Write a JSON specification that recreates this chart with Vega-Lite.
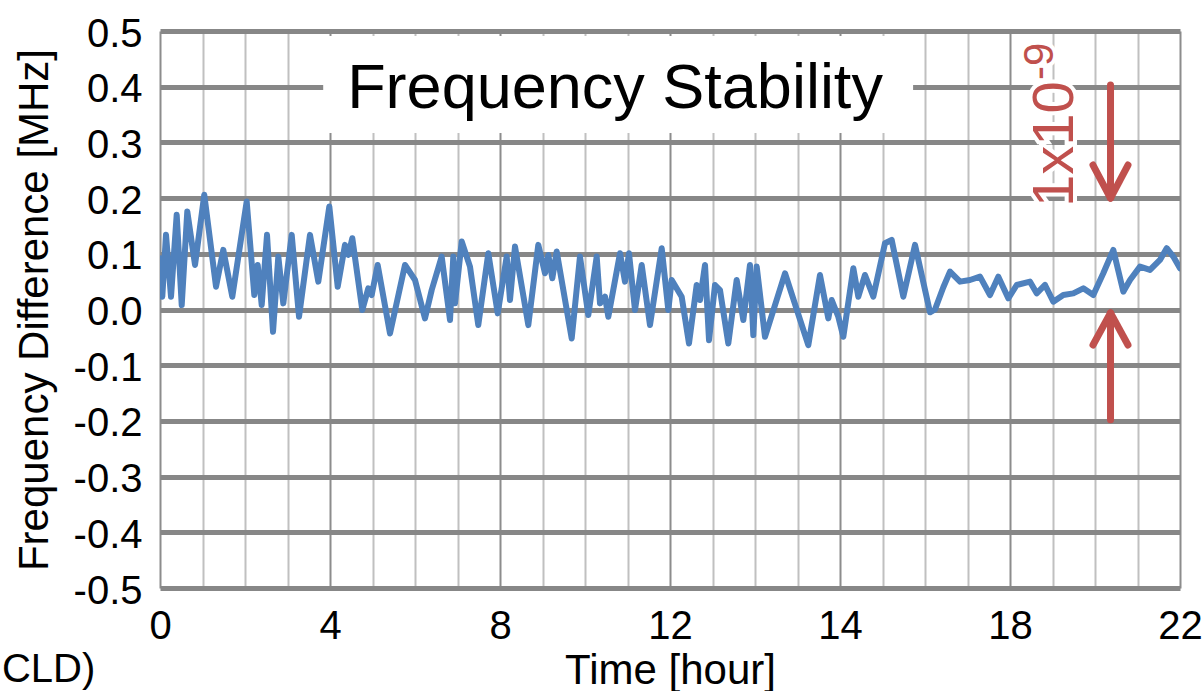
{
  "$schema": "https://vega.github.io/schema/vega-lite/v6.json",
  "width": 1020,
  "height": 557,
  "autosize": {"type": "none"},
  "padding": {"left": 160, "top": 31, "right": 23, "bottom": 103},
  "background": "white",
  "config": {"view": {"stroke": null}, "font": "Liberation Sans"},
  "datasets": {
    "signal": [
      {"t": 0, "f": 0.092}, {"t": 0.054, "f": 0.023}, {"t": 0.141, "f": 0.134}, {"t": 0.259, "f": 0.023},
      {"t": 0.393, "f": 0.170}, {"t": 0.511, "f": 0.008}, {"t": 0.642, "f": 0.176}, {"t": 0.824, "f": 0.080},
      {"t": 1.042, "f": 0.206}, {"t": 1.318, "f": 0.041}, {"t": 1.489, "f": 0.107}, {"t": 1.701, "f": 0.023},
      {"t": 2.04, "f": 0.194}, {"t": 2.219, "f": 0.026}, {"t": 2.299, "f": 0.080}, {"t": 2.393, "f": 0.008},
      {"t": 2.518, "f": 0.134}, {"t": 2.659, "f": -0.040}, {"t": 2.784, "f": 0.095}, {"t": 2.901, "f": 0.011},
      {"t": 3.099, "f": 0.134}, {"t": 3.271, "f": -0.013}, {"t": 3.529, "f": 0.134}, {"t": 3.725, "f": 0.050},
      {"t": 3.984, "f": 0.185}, {"t": 4.181, "f": 0.041}, {"t": 4.353, "f": 0.116}, {"t": 4.431, "f": 0.098},
      {"t": 4.525, "f": 0.128}, {"t": 4.76, "f": -0.001}, {"t": 4.901, "f": 0.038}, {"t": 4.981, "f": 0.026},
      {"t": 5.122, "f": 0.080}, {"t": 5.412, "f": -0.043}, {"t": 5.765, "f": 0.080}, {"t": 6.0, "f": 0.053},
      {"t": 6.235, "f": -0.016}, {"t": 6.393, "f": 0.035}, {"t": 6.628, "f": 0.095}, {"t": 6.824, "f": -0.019},
      {"t": 6.901, "f": 0.095}, {"t": 6.941, "f": 0.011}, {"t": 7.099, "f": 0.122}, {"t": 7.294, "f": 0.077},
      {"t": 7.489, "f": -0.028}, {"t": 7.725, "f": 0.101}, {"t": 7.946, "f": -0.007}, {"t": 8.158, "f": 0.095},
      {"t": 8.235, "f": 0.017}, {"t": 8.353, "f": 0.113}, {"t": 8.666, "f": -0.028}, {"t": 8.901, "f": 0.116},
      {"t": 9.059, "f": 0.065}, {"t": 9.136, "f": 0.098}, {"t": 9.231, "f": 0.056}, {"t": 9.334, "f": 0.104},
      {"t": 9.687, "f": -0.052}, {"t": 9.882, "f": 0.095}, {"t": 10.078, "f": -0.010}, {"t": 10.275, "f": 0.095},
      {"t": 10.353, "f": 0.011}, {"t": 10.471, "f": 0.023}, {"t": 10.549, "f": -0.013}, {"t": 10.824, "f": 0.101},
      {"t": 10.941, "f": 0.050}, {"t": 11.035, "f": 0.101}, {"t": 11.176, "f": -0.001}, {"t": 11.334, "f": 0.080},
      {"t": 11.529, "f": -0.028}, {"t": 11.805, "f": 0.110}, {"t": 11.96, "f": -0.001}, {"t": 12.04, "f": 0.053},
      {"t": 12.275, "f": 0.023}, {"t": 12.447, "f": -0.061}, {"t": 12.628, "f": 0.044}, {"t": 12.706, "f": 0.017},
      {"t": 12.824, "f": 0.080}, {"t": 12.918, "f": -0.055}, {"t": 13.059, "f": 0.044}, {"t": 13.176, "f": 0.035},
      {"t": 13.372, "f": -0.061}, {"t": 13.569, "f": 0.053}, {"t": 13.725, "f": -0.019}, {"t": 13.882, "f": 0.080},
      {"t": 13.96, "f": -0.046}, {"t": 14.04, "f": 0.077}, {"t": 14.235, "f": -0.049}, {"t": 14.706, "f": 0.065},
      {"t": 15.254, "f": -0.064}, {"t": 15.529, "f": 0.062}, {"t": 15.725, "f": -0.016}, {"t": 15.805, "f": 0.017},
      {"t": 15.96, "f": -0.013}, {"t": 16.078, "f": -0.049}, {"t": 16.314, "f": 0.074}, {"t": 16.431, "f": 0.023},
      {"t": 16.588, "f": 0.062}, {"t": 16.784, "f": 0.023}, {"t": 17.059, "f": 0.119}, {"t": 17.216, "f": 0.125},
      {"t": 17.49, "f": 0.023}, {"t": 17.765, "f": 0.116}, {"t": 18.118, "f": -0.005}, {"t": 18.235, "f": 0.0},
      {"t": 18.431, "f": 0.040}, {"t": 18.588, "f": 0.068}, {"t": 18.824, "f": 0.050}, {"t": 19.059, "f": 0.053},
      {"t": 19.294, "f": 0.059}, {"t": 19.529, "f": 0.026}, {"t": 19.725, "f": 0.059}, {"t": 19.96, "f": 0.020},
      {"t": 20.158, "f": 0.044}, {"t": 20.471, "f": 0.050}, {"t": 20.628, "f": 0.029}, {"t": 20.824, "f": 0.044},
      {"t": 21.019, "f": 0.014}, {"t": 21.254, "f": 0.026}, {"t": 21.489, "f": 0.029}, {"t": 21.725, "f": 0.038},
      {"t": 21.96, "f": 0.026}, {"t": 22.195, "f": 0.065}, {"t": 22.431, "f": 0.107}, {"t": 22.666, "f": 0.032},
      {"t": 22.824, "f": 0.053}, {"t": 23.059, "f": 0.077}, {"t": 23.294, "f": 0.071}, {"t": 23.529, "f": 0.089},
      {"t": 23.687, "f": 0.110}, {"t": 23.842, "f": 0.095}, {"t": 24.0, "f": 0.074}
    ],
    "box": [{"t": 3.84, "t2": 17.72, "f": 0.317, "f2": 0.491}],
    "title": [{"t": 10.706, "f": 0.3618, "label": "Frequency Stability"}],
    "stray": [{"t": -3.72, "f": -0.669, "label": "CLD)"}],
    "redbig": [{"t": 21.48, "f": 0.184, "label": "1x10"}],
    "redsup": [{"t": 21.01, "f": 0.412, "label": "-9"}],
    "arrows": [
      {"t": 22.365, "f": 0.403, "t2": 22.365, "f2": 0.206},
      {"t": 22.365, "f": 0.200, "t2": 21.953, "f2": 0.2594},
      {"t": 22.365, "f": 0.200, "t2": 22.776, "f2": 0.2594},
      {"t": 22.365, "f": -0.198, "t2": 22.365, "f2": -0.012},
      {"t": 22.365, "f": -0.006, "t2": 21.953, "f2": -0.0637},
      {"t": 22.365, "f": -0.006, "t2": 22.776, "f2": -0.0637}
    ]
  },
  "encoding": {
    "x": {
      "field": "t", "type": "quantitative",
      "scale": {"domain": [0, 24], "nice": false, "zero": false},
      "axis": {
        "values": [0,1,2,3,4,5,6,7,8,9,10,11,12,13,14,15,16,17,18,19,20,21,22,23,24],
        "labelExpr": "datum.value == 16 ? '14' : datum.value == 20 ? '18' : datum.value == 24 ? '22' : (datum.value % 4 == 0 ? format(datum.value, 'd') : '')",
        "grid": true,
        "gridColor": {"condition": {"test": "datum.value % 4 === 0", "value": "#8c8c8c"}, "value": "#c0c0c0"},
        "gridWidth": 2,
        "ticks": false, "tickSize": 0, "domain": false,
        "labelFontSize": 40, "labelColor": "#000000", "labelFont": "Liberation Sans",
        "labelPadding": 18, "labelFlush": false, "labelOverlap": false, "labelBound": false,
        "title": "Time [hour]", "titleFontSize": 42, "titleFont": "Liberation Sans", "titleFontWeight": "normal",
        "titleColor": "#000000", "titleBaseline": "alphabetic", "titleY": 95, "titleX": 510, "titleAlign": "center"
      }
    },
    "y": {
      "field": "f", "type": "quantitative",
      "scale": {"domain": [-0.5, 0.5], "nice": false, "zero": false},
      "axis": {
        "values": [-0.5, -0.4, -0.3, -0.2, -0.1, 0, 0.1, 0.2, 0.3, 0.4, 0.5],
        "labelExpr": "(datum.value < -0.001 ? '-' : '') + format(abs(datum.value), '.1f')",
        "grid": true, "gridColor": "#878787", "gridWidth": 5,
        "ticks": false, "tickSize": 0, "domain": false,
        "labelFontSize": 40, "labelColor": "#000000", "labelFont": "Liberation Sans",
        "labelPadding": 18, "labelOffset": 3, "labelFlush": false, "labelOverlap": false, "labelBound": false,
        "title": "Frequency Difference [MHz]", "titleFontSize": 42, "titleFont": "Liberation Sans", "titleFontWeight": "normal",
        "titleColor": "#000000", "titleAngle": 270, "titleBaseline": "alphabetic", "titleAlign": "center",
        "titleX": -113, "titleY": 278.5
      }
    }
  },
  "layer": [
    {
      "data": {"name": "signal"},
      "mark": {"type": "line", "color": "#4f81bd", "strokeWidth": 6, "strokeJoin": "round", "strokeCap": "round", "clip": true}
    },
    {
      "data": {"name": "box"},
      "mark": {"type": "rect", "color": "white", "opacity": 1},
      "encoding": {"x2": {"field": "t2"}, "y2": {"field": "f2"}}
    },
    {
      "data": {"name": "title"},
      "mark": {"type": "text", "fontSize": 63, "font": "Liberation Sans", "color": "#000000", "align": "center", "baseline": "alphabetic"},
      "encoding": {"text": {"field": "label"}}
    },
    {
      "data": {"name": "stray"},
      "mark": {"type": "text", "fontSize": 40, "font": "Liberation Sans", "color": "#000000", "align": "left", "baseline": "alphabetic", "clip": false},
      "encoding": {"text": {"field": "label"}}
    },
    {
      "data": {"name": "redbig"},
      "mark": {"type": "text", "fontSize": 58, "font": "Liberation Sans", "color": "white", "stroke": "white", "strokeWidth": 8, "angle": 270, "align": "left", "baseline": "alphabetic"},
      "encoding": {"text": {"field": "label"}}
    },
    {
      "data": {"name": "redsup"},
      "mark": {"type": "text", "fontSize": 42, "font": "Liberation Sans", "color": "white", "stroke": "white", "strokeWidth": 8, "angle": 270, "align": "left", "baseline": "alphabetic"},
      "encoding": {"text": {"field": "label"}}
    },
    {
      "data": {"name": "redbig"},
      "mark": {"type": "text", "fontSize": 58, "font": "Liberation Sans", "color": "#c0504d", "angle": 270, "align": "left", "baseline": "alphabetic"},
      "encoding": {"text": {"field": "label"}}
    },
    {
      "data": {"name": "redsup"},
      "mark": {"type": "text", "fontSize": 42, "font": "Liberation Sans", "color": "#c0504d", "angle": 270, "align": "left", "baseline": "alphabetic"},
      "encoding": {"text": {"field": "label"}}
    },
    {
      "data": {"name": "arrows"},
      "mark": {"type": "rule", "color": "#c0504d", "strokeWidth": 7, "strokeCap": "round"},
      "encoding": {"x2": {"field": "t2"}, "y2": {"field": "f2"}}
    }
  ]
}
